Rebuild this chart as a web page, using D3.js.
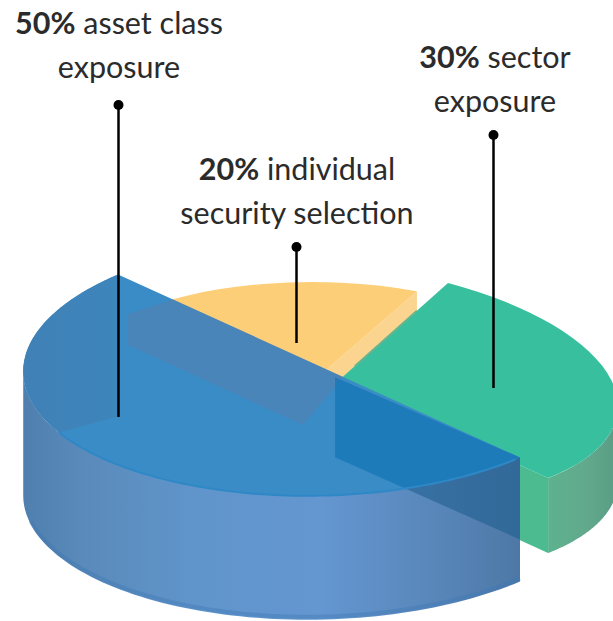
<!DOCTYPE html>
<html>
<head>
<meta charset="utf-8">
<script src="https://cdn.jsdelivr.net/npm/d3@7"></script>
<style>
  body { margin: 0; background: #fff; }
  text { font-family: Lato, sans-serif; font-size: 30.5px; fill: #2b2b2b; text-anchor: middle; }
  .share { font-weight: 700; }
</style>
</head>
<body>
<div id="chart"></div>
<script>
// Data
const categories = ["asset class", "individual", "sector"];
const shares = [50, 20, 30];
const secondLines = ["exposure", "security selection", "exposure"];

// Basic settings
const canvasWidth = 613;
const canvasHeight = 621;

// Each slice is an affine-squashed pie wedge: centre, spoke to its start, spoke to its middle
const centres = [[319, 366], [310, 384], [337, 382]];
const startSpokes = [[201, 91.5], [-183, -69], [111, -99]];
const midSpokes = [[-217, 92], [-47, -100], [274, -2.5]];
const depths = [124, 75, 75];
const topColors = ["#3a8cc6", "url(#yellowTop)", "#38bf9e"];

// Label anchors
const labelX = [119, 297, 495];
const labelY = [34, 180, 68];
const leaderX = [118.5, 296.5, 493.5];
const leaderTop = [105, 247, 135];
const leaderBottom = [417, 343, 388];

const svg = d3.select("#chart")
  .append("svg")
  .attr("width", canvasWidth)
  .attr("height", canvasHeight)
  .style("display", "block");

const defs = svg.append("defs");

function addGradient(id, x1, x2, stops) {
  const g = defs.append("linearGradient")
    .attr("id", id)
    .attr("gradientUnits", "userSpaceOnUse")
    .attr("x1", x1).attr("x2", x2).attr("y1", 0).attr("y2", 0);
  stops.forEach(function (s) {
    g.append("stop").attr("offset", s[0]).attr("stop-color", s[1]);
  });
}

addGradient("blueWall", 23, 520, [[0, "#4f7fae"], [0.12, "#5a8aba"], [0.35, "#6095cb"], [0.6, "#6496d0"], [0.85, "#5785b8"], [1, "#4d78a6"]]);
addGradient("greenWall", 548, 612, [[0, "#5db28e"], [0.6, "#62a98c"], [1, "#5a9f86"]]);
addGradient("yellowTop", 170, 417, [[0, "#fdce78"], [1, "#f8bd5c"]]);
addGradient("blueShade", 23, 118, [[0, "#4081b6"], [1, "#3d85bc"]]);

// Pie layout gives the sweep of each slice
const pie = d3.pie().sort(null).startAngle(0).endAngle(2 * Math.PI);
const slices = pie(shares).map(function (d, i) {
  const a0 = d.startAngle;
  const aMid = (d.startAngle + d.endAngle) / 2;
  const e0 = [Math.sin(a0), -Math.cos(a0)];
  const e1 = [Math.sin(aMid), -Math.cos(aMid)];
  const det = e0[0] * e1[1] - e0[1] * e1[0];
  const v0 = startSpokes[i];
  const v1 = midSpokes[i];
  // solve M so that M*e0 = v0 and M*e1 = v1
  const m = {
    a: (v0[0] * e1[1] - v1[0] * e0[1]) / det,
    c: (v1[0] * e0[0] - v0[0] * e1[0]) / det,
    b: (v0[1] * e1[1] - v1[1] * e0[1]) / det,
    d: (v1[1] * e0[0] - v0[1] * e1[0]) / det
  };
  return { pie: d, m: m, c: centres[i], depth: depths[i], color: topColors[i] };
});

function rimPoint(s, angle) {
  const x = Math.sin(angle);
  const y = -Math.cos(angle);
  return [s.c[0] + s.m.a * x + s.m.c * y, s.c[1] + s.m.b * x + s.m.d * y];
}

function rimPoints(s, from, to) {
  const n = 80;
  return d3.range(n + 1).map(function (k) {
    return rimPoint(s, from + (to - from) * k / n);
  });
}

// Angle of the slice's rim where it is furthest along x (sign -1 left, +1 right)
function sideAngle(s, sign) {
  const angles = d3.range(201).map(function (k) {
    return s.pie.startAngle + (s.pie.endAngle - s.pie.startAngle) * k / 200;
  });
  return d3.greatest(angles, function (a) { return sign * rimPoint(s, a)[0]; });
}

const polygon = d3.line();
const wedge = d3.arc().innerRadius(0).outerRadius(1);

function topTransform(s) {
  return "matrix(" + [s.m.a, s.m.b, s.m.c, s.m.d, s.c[0], s.c[1]].join(",") + ")";
}

function drawTop(s) {
  svg.append("path")
    .attr("d", wedge(s.pie))
    .attr("transform", topTransform(s))
    .attr("fill", s.color);
}

function drawWall(s, from, to, fill) {
  const top = rimPoints(s, from, to);
  const bottom = top.map(function (p) { return [p[0], p[1] + s.depth]; }).reverse();
  svg.append("path")
    .attr("d", polygon(top.concat(bottom)) + "Z")
    .attr("fill", fill);
  return bottom;
}

// Flat cut face hanging below a spoke
function drawFace(s, angle, fill) {
  const p = rimPoint(s, angle);
  svg.append("path")
    .attr("d", polygon([s.c, p, [p[0], p[1] + s.depth], [s.c[0], s.c[1] + s.depth]]) + "Z")
    .attr("fill", fill);
}

const blue = slices[0];
const yellow = slices[1];
const green = slices[2];

// Point along the blue cut: t runs along the spoke, off drops below it
function cutPoint(t, off) {
  const v = startSpokes[0];
  return [blue.c[0] + t * v[0], blue.c[1] + t * v[1] + off];
}

// Yellow slice
drawFace(yellow, yellow.pie.endAngle, "#fbd58f");
drawTop(yellow);

// Green slice
drawWall(green, sideAngle(green, 1), green.pie.endAngle, "url(#greenWall)");
drawFace(green, green.pie.endAngle, "#4dbb90");
drawTop(green);

// greyer edge along the green spoke facing the yellow slice
const greenEdge = rimPoint(green, green.pie.startAngle);
svg.append("line")
  .attr("x1", green.c[0] + (greenEdge[0] - green.c[0]) * 0.16)
  .attr("y1", green.c[1] + (greenEdge[1] - green.c[1]) * 0.16)
  .attr("x2", green.c[0] + (greenEdge[0] - green.c[0]) * 0.72)
  .attr("y2", green.c[1] + (greenEdge[1] - green.c[1]) * 0.72)
  .attr("stroke", "#6ab48d")
  .attr("stroke-width", 2);

// Blue slice
const faceRight = [cutPoint(0.08, 4), cutPoint(1, 0), cutPoint(1, 82), cutPoint(0.08, 84)];
const blueBottom = drawWall(blue, blue.pie.startAngle, sideAngle(blue, -1), "url(#blueWall)");

// darker rim along the bottom of the wall, kept just inside the edge
svg.append("path")
  .attr("d", polygon(blueBottom.slice(8)))
  .attr("transform", "translate(0,-3)")
  .attr("fill", "none")
  .attr("stroke", "#3f79b4")
  .attr("stroke-width", 4)
  .attr("opacity", 0.4);

// the cut face is greyer where it crosses the outer wall
svg.append("path")
  .attr("d", polygon(faceRight) + "Z")
  .attr("fill", "#1f5f90")
  .attr("opacity", 0.6);

drawTop(blue);

defs.append("clipPath").attr("id", "blueTopClip")
  .append("path")
  .attr("d", wedge(blue.pie))
  .attr("transform", topTransform(blue));

// far left of the blue top is a little greyer
const shadeArc = rimPoints(blue, blue.pie.endAngle, blue.pie.endAngle - 1.32);
svg.append("path")
  .attr("d", polygon(shadeArc.concat([cutPoint(-1, 142)])) + "Z")
  .attr("fill", "url(#blueShade)");

// seen-through faces
svg.append("path")
  .attr("d", polygon([cutPoint(-0.955, 36), cutPoint(-0.726, 0), cutPoint(0.12, 0), cutPoint(-0.08, 66), cutPoint(-0.955, 66)]) + "Z")
  .attr("fill", "#5a7eae")
  .attr("opacity", 0.5);

svg.append("path")
  .attr("d", polygon(faceRight) + "Z")
  .attr("clip-path", "url(#blueTopClip)")
  .attr("fill", "#0c6fb0")
  .attr("opacity", 0.6);

// rim highlight along the front edge of the blue top
svg.append("path")
  .attr("d", polygon(rimPoints(blue, blue.pie.startAngle + 0.02, blue.pie.endAngle - 1.32)))
  .attr("fill", "none")
  .attr("stroke", "#2f88c6")
  .attr("stroke-width", 2);

// Leaders
leaderX.forEach(function (x, i) {
  svg.append("line")
    .attr("x1", x).attr("x2", x)
    .attr("y1", leaderTop[i]).attr("y2", leaderBottom[i])
    .attr("stroke", "#000").attr("stroke-width", 2.5);
  svg.append("circle")
    .attr("cx", x).attr("cy", leaderTop[i]).attr("r", 5).attr("fill", "#000");
});

// Labels
categories.forEach(function (name, i) {
  const label = svg.append("text").attr("x", labelX[i]).attr("y", labelY[i]);
  label.append("tspan").attr("class", "share").text(shares[i] + "%");
  label.append("tspan").text(" " + name);
  svg.append("text").attr("x", labelX[i]).attr("y", labelY[i] + 44).text(secondLines[i]);
});
</script>
</body>
</html>
